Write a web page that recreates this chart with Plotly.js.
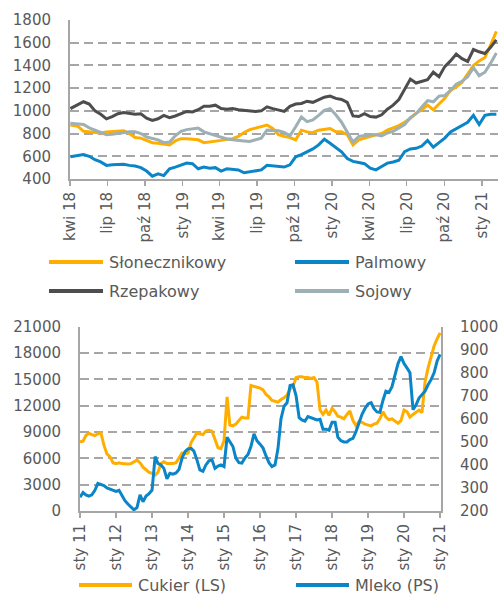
<!DOCTYPE html>
<html><head><meta charset="utf-8">
<script src="https://cdn.plot.ly/plotly-3.0.1.min.js"></script>
<style>html,body{margin:0;padding:0;background:#fff}#chart{width:498px;height:595px}</style>
</head><body><div id="chart"></div>
<script>
// ---------- Top chart: vegetable oils ----------
const datesTop = ['2018-04-02','2018-04-20','2018-05-04','2018-05-18','2018-06-01','2018-06-15','2018-06-29','2018-07-13','2018-07-27','2018-08-10','2018-08-24','2018-09-07','2018-09-21','2018-10-05','2018-10-19','2018-11-02','2018-11-16','2018-11-30','2018-12-14','2018-12-28','2019-01-11','2019-01-25','2019-02-08','2019-02-22','2019-03-08','2019-03-22','2019-04-05','2019-04-19','2019-05-03','2019-05-17','2019-05-31','2019-06-14','2019-06-28','2019-07-12','2019-07-26','2019-08-09','2019-08-23','2019-09-06','2019-09-20','2019-10-04','2019-10-18','2019-11-01','2019-11-15','2019-11-29','2019-12-13','2019-12-27','2020-01-10','2020-01-24','2020-02-07','2020-02-21','2020-03-06','2020-03-20','2020-04-03','2020-04-17','2020-05-01','2020-05-15','2020-05-29','2020-06-12','2020-06-26','2020-07-10','2020-07-24','2020-08-07','2020-08-21','2020-09-04','2020-09-18','2020-10-02','2020-10-16','2020-10-30','2020-11-13','2020-11-27','2020-12-11','2020-12-25','2021-01-08','2021-01-22','2021-02-05'];
const slonecznikowy = [875,865,820,815,810,805,815,820,825,825,800,765,760,740,720,715,705,700,735,755,755,748,745,720,725,735,740,750,755,775,810,835,850,865,875,845,790,775,765,745,830,815,808,830,835,845,815,815,790,700,745,760,780,790,800,830,850,870,900,935,980,1010,1050,1010,1060,1110,1180,1210,1250,1320,1400,1440,1470,1580,1700];
const palmowy = [595,605,615,600,570,550,520,525,530,530,520,515,500,470,425,445,430,490,505,525,540,535,490,505,495,500,470,490,485,480,455,465,475,480,520,515,505,505,525,595,615,640,665,700,750,715,675,640,580,555,545,535,495,480,510,540,550,565,640,665,670,690,740,680,720,760,815,845,870,900,960,880,960,970,970];
const rzepakowy = [1020,1050,1080,1060,1000,970,930,950,975,985,975,970,975,935,915,930,960,940,955,975,995,990,1010,1040,1040,1050,1020,1015,1020,1010,1005,995,995,1000,1035,1020,1010,995,1040,1060,1065,1085,1075,1095,1120,1130,1110,1100,1075,955,950,975,950,945,965,1015,1050,1100,1190,1280,1245,1260,1275,1340,1300,1390,1440,1500,1460,1435,1540,1520,1505,1560,1625];
const sojowy = [890,888,880,850,830,810,790,795,802,810,815,815,800,770,755,745,720,725,780,820,835,840,848,815,800,787,770,752,745,743,735,730,745,760,830,830,825,810,780,860,945,905,920,960,1005,1020,965,900,810,725,775,785,790,790,780,805,820,850,880,940,975,1035,1090,1080,1130,1135,1180,1235,1260,1300,1380,1310,1340,1420,1510];
const ticksTop = ['2018-04-01','2018-07-01','2018-10-01','2019-01-01','2019-04-01','2019-07-01','2019-10-01','2020-01-01','2020-04-01','2020-07-01','2020-10-01','2021-01-01'];
const tickTextTop = ['kwi 18','lip 18','paź 18','sty 19','kwi 19','lip 19','paź 19','sty 20','kwi 20','lip 20','paź 20','sty 21'];

// ---------- Bottom chart: sugar (LS) and milk (PS) ----------
const datesBottom = [
 '2011-01','2011-02','2011-03','2011-04','2011-05','2011-06','2011-07','2011-08','2011-09','2011-10','2011-11','2011-12',
 '2012-01','2012-02','2012-03','2012-04','2012-05','2012-06','2012-07','2012-08','2012-09','2012-10','2012-11','2012-12',
 '2013-01','2013-02','2013-03','2013-04','2013-05','2013-06','2013-07','2013-08','2013-09','2013-10','2013-11','2013-12',
 '2014-01','2014-02','2014-03','2014-04','2014-05','2014-06','2014-07','2014-08','2014-09','2014-10','2014-11','2014-12',
 '2015-01','2015-02','2015-03','2015-04','2015-05','2015-06','2015-07','2015-08','2015-09','2015-10','2015-11','2015-12',
 '2016-01','2016-02','2016-03','2016-04','2016-05','2016-06','2016-07','2016-08','2016-09','2016-10','2016-11','2016-12',
 '2017-01','2017-02','2017-03','2017-04','2017-05','2017-06','2017-07','2017-08','2017-09','2017-10','2017-11','2017-12',
 '2018-01','2018-02','2018-03','2018-04','2018-05','2018-06','2018-07','2018-08','2018-09','2018-10','2018-11','2018-12',
 '2019-01','2019-02','2019-03','2019-04','2019-05','2019-06','2019-07','2019-08','2019-09','2019-10','2019-11','2019-12',
 '2020-01','2020-02','2020-03','2020-04','2020-05','2020-06','2020-07','2020-08','2020-09','2020-10','2020-11','2020-12',
 '2021-01'];
const cukier = [
 7900,7950,8600,8850,8700,8600,8800,8900,7500,6500,6200,5500,
 5400,5500,5400,5350,5350,5400,5600,5800,5500,5000,4700,4400,
 4300,4100,4400,5400,5600,5400,5400,5400,5500,6000,6600,6500,
 6600,7800,8300,8900,8800,8700,9100,9200,9100,8200,7200,7100,
 8000,13000,9800,9700,9900,10300,10700,10600,10600,14300,14200,14100,
 14000,13800,13300,13000,12600,12500,12400,12700,12900,13200,13900,14200,
 15200,15300,15300,15200,15200,15100,15200,14700,11500,11000,11500,10900,
 11700,11300,10800,10700,10500,11000,11400,10300,9700,10200,10100,9900,
 9800,9700,9900,10000,10500,11300,10700,10400,10500,10200,10000,10300,
 11500,11300,10700,11000,11300,11500,11200,14700,16300,17400,18800,19600,
 20300];
const mleko = [
 260,280,270,265,270,290,320,315,310,300,295,290,
 285,290,265,245,230,215,205,215,270,240,265,275,
 291,436,407,400,385,340,364,360,365,380,429,458,
 470,472,460,422,378,372,400,418,422,385,395,400,
 393,520,500,480,430,410,408,430,445,480,535,505,
 490,473,440,410,393,400,470,600,655,670,745,748,
 700,605,595,590,610,605,598,595,598,555,555,550,
 585,585,520,505,500,500,510,515,545,580,620,645,
 665,670,645,630,628,680,720,715,740,790,840,870,
 840,820,800,640,660,690,705,720,748,770,800,850,
 880];
const ticksBottom = ['2011-01-01','2012-01-01','2013-01-01','2014-01-01','2015-01-01','2016-01-01','2017-01-01','2018-01-01','2019-01-01','2020-01-01','2021-01-01'];
const tickTextBottom = ['sty 11','sty 12','sty 13','sty 14','sty 15','sty 16','sty 17','sty 18','sty 19','sty 20','sty 21'];

// ---------- styles ----------
const C_ORANGE = '#FFAE00', C_BLUE = '#0A85C8', C_DARK = '#4D4D4D', C_SOY = '#9DB0B5';
const AX = '#A6A6A6', TXT = '#595959';
const W = 498, H = 595;
const px = v => v / W, py = v => 1 - v / H;

const traces = [
  {x: datesTop, y: slonecznikowy, name: 'Słonecznikowy', xaxis: 'x', yaxis: 'y', mode: 'lines', line: {color: C_ORANGE, width: 3}},
  {x: datesTop, y: palmowy, name: 'Palmowy', xaxis: 'x', yaxis: 'y', mode: 'lines', line: {color: C_BLUE, width: 3}},
  {x: datesTop, y: sojowy, name: 'Sojowy', xaxis: 'x', yaxis: 'y', mode: 'lines', line: {color: C_SOY, width: 3}},
  {x: datesTop, y: rzepakowy, name: 'Rzepakowy', xaxis: 'x', yaxis: 'y', mode: 'lines', line: {color: C_DARK, width: 3}},
  {x: datesBottom, y: cukier, name: 'Cukier (LS)', xaxis: 'x2', yaxis: 'y2', mode: 'lines', line: {color: C_ORANGE, width: 3}},
  {x: datesBottom, y: mleko, name: 'Mleko (PS)', xaxis: 'x2', yaxis: 'y3', mode: 'lines', line: {color: C_BLUE, width: 3}}
];

const xCommon = {type: 'date', tickangle: -90, ticks: 'outside', ticklen: 5, tickwidth: 1.5, tickcolor: AX,
  showline: true, linecolor: AX, linewidth: 2, showgrid: false, zeroline: false, fixedrange: true,
  tickfont: {size: 15, color: TXT}};
const yCommon = {showline: true, linecolor: AX, linewidth: 2, zeroline: false, fixedrange: true, tickformat: 'd',
  ticks: 'outside', ticklen: 14, tickcolor: 'rgba(0,0,0,0)', tickfont: {size: 15, color: TXT}};

const layout = {
  width: W, height: H, margin: {l: 0, r: 0, t: 0, b: 0},
  paper_bgcolor: '#fff', plot_bgcolor: '#fff', showlegend: false,
  font: {family: 'DejaVu Sans, Verdana, sans-serif', size: 15, color: TXT},
  xaxis: Object.assign({}, xCommon, {domain: [px(70), 1], anchor: 'y', range: ['2018-04-01', '2021-02-09'],
    tickmode: 'array', tickvals: ticksTop, ticktext: tickTextTop}),
  yaxis: Object.assign({}, yCommon, {domain: [py(179), py(20)], anchor: 'x', range: [400, 1800], tick0: 400, dtick: 200,
    showgrid: true, gridcolor: AX, gridwidth: 2, griddash: '9px,5px'}),
  xaxis2: Object.assign({}, xCommon, {domain: [px(80), px(441)], anchor: 'y2', range: ['2011-01-01', '2021-01-10'],
    tickmode: 'array', tickvals: ticksBottom, ticktext: tickTextBottom}),
  yaxis2: Object.assign({}, yCommon, {domain: [py(511), py(326.7)], anchor: 'x2', range: [0, 21000], tick0: 0, dtick: 3000,
    showgrid: true, gridcolor: AX, gridwidth: 2, griddash: '9px,5px'}),
  yaxis3: Object.assign({}, yCommon, {overlaying: 'y2', side: 'right', anchor: 'x2', range: [200, 1000], tick0: 200, dtick: 100,
    showgrid: false}),
  shapes: [], annotations: []
};

// manual legends (lines + text)
const legendItems = [
  {label: 'Słonecznikowy', color: C_ORANGE, x0: 49, x1: 103, tx: 107, y: 262},
  {label: 'Palmowy', color: C_BLUE, x0: 295, x1: 349, tx: 353, y: 262},
  {label: 'Rzepakowy', color: C_DARK, x0: 49, x1: 103, tx: 107, y: 291},
  {label: 'Sojowy', color: C_SOY, x0: 295, x1: 349, tx: 353, y: 291},
  {label: 'Cukier (LS)', color: C_ORANGE, x0: 79, x1: 132, tx: 136, y: 585},
  {label: 'Mleko (PS)', color: C_BLUE, x0: 296, x1: 349, tx: 353, y: 585}
];
legendItems.forEach(it => {
  layout.shapes.push({type: 'line', xref: 'paper', yref: 'paper', x0: px(it.x0), x1: px(it.x1), y0: py(it.y), y1: py(it.y),
    line: {color: it.color, width: 4}});
  layout.annotations.push({xref: 'paper', yref: 'paper', x: px(it.tx), y: py(it.y), xanchor: 'left', yanchor: 'middle',
    text: it.label, showarrow: false, font: {size: 16, color: TXT}});
});

Plotly.newPlot('chart', traces, layout, {staticPlot: true, displayModeBar: false});
</script></body></html>
